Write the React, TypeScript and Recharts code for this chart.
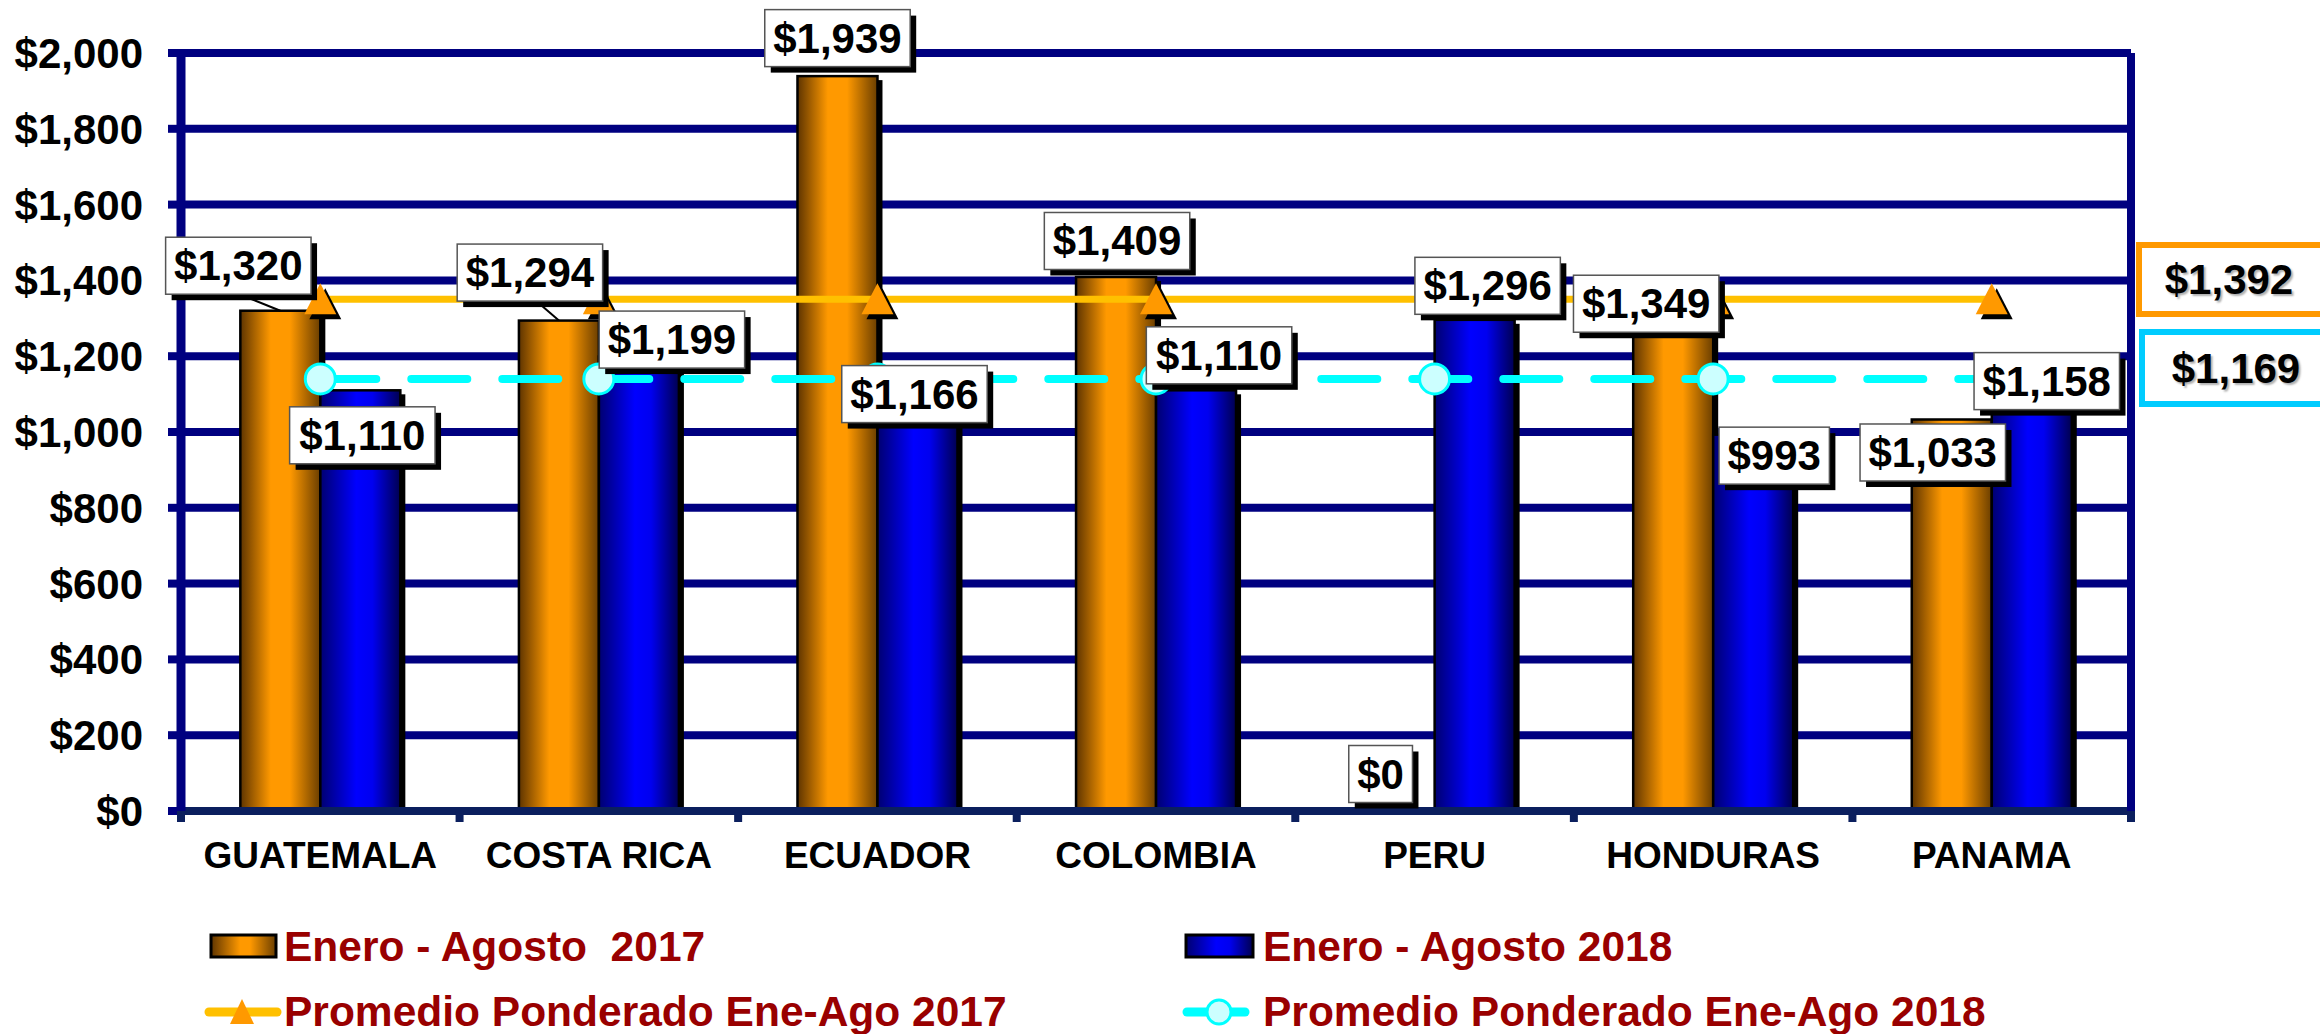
import React from 'react';
import { ComposedChart, Bar, Line, XAxis, YAxis, CartesianGrid, LabelList } from 'recharts';

// ---------- data ----------
const categories = ['GUATEMALA', 'COSTA RICA', 'ECUADOR', 'COLOMBIA', 'PERU', 'HONDURAS', 'PANAMA'];
const ventas2017 = [1320, 1294, 1939, 1409, 0, 1349, 1033];
const ventas2018 = [1110, 1199, 1166, 1110, 1296, 993, 1158];
// weighted average lines, as drawn in the picture
const promedio2017 = 1350;
const promedio2018 = 1140;
const promedioLabels = ['$1,392', '$1,169'];
const yTicks = [0, 200, 400, 600, 800, 1000, 1200, 1400, 1600, 1800, 2000];
const seriesNames = [
  'Enero - Agosto  2017',
  'Enero - Agosto 2018',
  'Promedio Ponderado Ene-Ago 2017',
  'Promedio Ponderado Ene-Ago 2018',
];

const data = categories.map((name, i) => ({
  name,
  v17: ventas2017[i],
  v18: ventas2018[i],
  p17: promedio2017,
  p18: promedio2018,
}));

// ---------- layout / style ----------
const W = 2320;
const H = 1034;
const PLOT_LEFT = 181;
const PLOT_RIGHT = 2131;
const BAND = (PLOT_RIGHT - PLOT_LEFT) / categories.length;
const FONT = "'Liberation Sans', Arial, Helvetica, sans-serif";
const NAVY = '#000080';
const LABEL_FONT = 42;

// label box placement relative to bar top (style only)
const labelStyle17: { dx: number; dy: number; leader?: boolean }[] = [
  { dx: -42, dy: -45, leader: true },
  { dx: -29, dy: -48, leader: true },
  { dx: 0, dy: -38 },
  { dx: 1, dy: -36 },
  { dx: -14, dy: -37 },
  { dx: -27, dy: 4 },
  { dx: -19, dy: 33 },
];
const labelStyle18: { dx: number; dy: number; leader?: boolean }[] = [
  { dx: 2, dy: 45 },
  { dx: 33, dy: -17 },
  { dx: -3, dy: 25 },
  { dx: 23, dy: -35 },
  { dx: 13, dy: -34 },
  { dx: 21, dy: 21 },
  { dx: 15, dy: 9 },
];

const fmt = (v: number) => '$' + String(Math.round(v)).replace(/\B(?=(\d{3})+(?!\d))/g, ',');
const textEm = (s: string) =>
  s.split('').reduce((a, c) => a + (c === ',' || c === '.' ? 0.278 : 0.556), 0);

const makeLabel = (styles: { dx: number; dy: number; leader?: boolean }[]) => (props: any) => {
  const x = Number(props.x);
  const y = Number(props.y);
  const width = Number(props.width);
  const cx0 = x + width / 2;
  const idx =
    typeof props.index === 'number' ? props.index : Math.floor((cx0 - PLOT_LEFT) / BAND);
  const st = styles[idx] || { dx: 0, dy: -38 };
  const text = fmt(Number(props.value));
  const w = textEm(text) * LABEL_FONT + 17;
  const h = 57;
  const bx = cx0 + st.dx - w / 2;
  const by = y + st.dy - h / 2;
  return (
    <g>
      {st.leader && (
        <line x1={cx0 + st.dx + 11} y1={by + h + 4} x2={cx0} y2={y} stroke="#000" strokeWidth={2} />
      )}
      <rect x={bx + 6} y={by + 6} width={w} height={h} fill="#000" />
      <rect x={bx} y={by} width={w} height={h} fill="#fff" stroke="#555" strokeWidth={1.5} />
      <text
        x={bx + w / 2}
        y={by + h / 2}
        textAnchor="middle"
        dominantBaseline="central"
        fontSize={LABEL_FONT}
        fontWeight="bold"
        fontFamily={FONT}
        fill="#000"
      >
        {text}
      </text>
    </g>
  );
};

const CylBar = (props: any) => {
  const { x, y, width, height, grad } = props;
  if (!height || height <= 0) return <g />;
  return (
    <g>
      <rect x={x + 5} y={y + 4} width={width} height={height - 4} fill="#000" />
      <rect x={x} y={y} width={width} height={height} fill={`url(#${grad})`} stroke="#000" strokeWidth={2.5} />
    </g>
  );
};

const tri = (x: number, y: number) => `${x},${y - 16} ${x - 16},${y + 15} ${x + 16},${y + 15}`;

const TriDot = (props: any) => {
  const { cx, cy } = props;
  if (cx == null || cy == null) return <g />;
  return (
    <g>
      <polygon points={tri(cx + 5, cy + 5)} fill="#000" />
      <polygon points={tri(cx, cy)} fill="#FF9900" />
    </g>
  );
};

const CircleDot = (props: any) => {
  const { cx, cy } = props;
  if (cx == null || cy == null) return <g />;
  return <circle cx={cx} cy={cy} r={15} fill="#CCFFFF" stroke="#00FFFF" strokeWidth={3} />;
};

const CatTick = (props: any) => {
  const { x, y, payload, index } = props;
  const left = x - BAND / 2;
  const isLast = index === categories.length - 1;
  return (
    <g>
      <line x1={left} y1={y} x2={left} y2={y + 11} stroke="#0B1F5E" strokeWidth={8} />
      {isLast && <line x1={x + BAND / 2} y1={y} x2={x + BAND / 2} y2={y + 11} stroke="#0B1F5E" strokeWidth={8} />}
      <text
        x={x}
        y={y + 44}
        textAnchor="middle"
        dominantBaseline="central"
        fontSize={37}
        fontWeight="bold"
        fontFamily={FONT}
        fill="#000"
      >
        {payload.value}
      </text>
    </g>
  );
};

const legendText: React.CSSProperties = {
  position: 'absolute',
  fontFamily: FONT,
  fontWeight: 'bold',
  fontSize: 42.5,
  color: '#990000',
  whiteSpace: 'pre',
  lineHeight: '48px',
  height: 48,
};

const boxText: React.CSSProperties = {
  position: 'absolute',
  fontFamily: FONT,
  fontWeight: 'bold',
  fontSize: 42,
  color: '#000',
  whiteSpace: 'pre',
  lineHeight: '50px',
  transform: 'translate(-50%, -50%)',
  textShadow: '2px 2px 2px #b0b0b0',
};

export default function App() {
  return (
    <div style={{ position: 'absolute', left: 0, top: 0, width: W, height: H, background: '#fff', overflow: 'hidden' }}>
      <ComposedChart
        width={W}
        height={H}
        data={data}
        margin={{ top: 53, right: 188, bottom: 143, left: 0 }}
        barCategoryGap="21.3%"
        barGap={0}
      >
        <defs>
          <linearGradient id="g17" x1="0" y1="0" x2="1" y2="0">
            <stop offset="0%" stopColor="#5E3400" />
            <stop offset="38%" stopColor="#FF9900" />
            <stop offset="62%" stopColor="#FF9900" />
            <stop offset="100%" stopColor="#6A3E00" />
          </linearGradient>
          <linearGradient id="g18" x1="0" y1="0" x2="1" y2="0">
            <stop offset="0%" stopColor="#000070" />
            <stop offset="45%" stopColor="#0000FF" />
            <stop offset="65%" stopColor="#0000F0" />
            <stop offset="100%" stopColor="#000050" />
          </linearGradient>
        </defs>
        <CartesianGrid vertical={false} stroke={NAVY} strokeWidth={8} />
        <XAxis
          dataKey="name"
          interval={0}
          height={80}
          tickSize={0}
          tickMargin={0}
          tickLine={false}
          axisLine={{ stroke: '#0B1F5E', strokeWidth: 8 }}
          tick={<CatTick />}
        />
        <XAxis xAxisId="lbl" dataKey="name" hide />
        <YAxis
          domain={[0, 2000]}
          ticks={yTicks}
          interval={0}
          width={181}
          tickSize={13}
          tickMargin={25}
          tickFormatter={(v: number) => fmt(v)}
          axisLine={{ stroke: NAVY, strokeWidth: 9 }}
          tickLine={{ stroke: NAVY, strokeWidth: 8 }}
          tick={{ fill: '#000', fontSize: 42, fontWeight: 'bold', fontFamily: FONT }}
        />
        <YAxis
          yAxisId="r"
          orientation="right"
          width={1}
          tick={false}
          tickLine={false}
          axisLine={{ stroke: NAVY, strokeWidth: 8 }}
        />
        <Bar dataKey="v17" isAnimationActive={false} shape={(p: any) => <CylBar {...p} grad="g17" />} />
        <Bar dataKey="v18" isAnimationActive={false} shape={(p: any) => <CylBar {...p} grad="g18" />} />
        <Line
          dataKey="p17"
          stroke="#FFC000"
          strokeWidth={7}
          isAnimationActive={false}
          dot={(p: any) => <TriDot key={`t${p.index}`} {...p} />}
          activeDot={false}
        />
        <Line
          dataKey="p18"
          stroke="#00FFFF"
          strokeWidth={8}
          strokeDasharray="56 35"
          strokeLinecap="round"
          isAnimationActive={false}
          dot={(p: any) => <CircleDot key={`c${p.index}`} {...p} />}
          activeDot={false}
        />
        <Bar xAxisId="lbl" dataKey="v17" fill="none" isAnimationActive={false} shape={() => <g />}>
          <LabelList dataKey="v17" content={makeLabel(labelStyle17)} />
        </Bar>
        <Bar xAxisId="lbl" dataKey="v18" fill="none" isAnimationActive={false} shape={() => <g />}>
          <LabelList dataKey="v18" content={makeLabel(labelStyle18)} />
        </Bar>
      </ComposedChart>

      {/* average value boxes on the right */}
      <div style={{ position: 'absolute', left: 2136, top: 242, width: 220, height: 75, border: '6px solid #FF9900', boxSizing: 'border-box', background: '#fff' }} />
      <div style={{ ...boxText, left: 2229, top: 280 }}>{promedioLabels[0]}</div>
      <div style={{ position: 'absolute', left: 2139, top: 329, width: 220, height: 78, border: '6px solid #00CCFF', boxSizing: 'border-box', background: '#fff' }} />
      <div style={{ ...boxText, left: 2236, top: 369 }}>{promedioLabels[1]}</div>

      {/* legend */}
      <svg style={{ position: 'absolute', left: 0, top: 900 }} width={W} height={134}>
        <defs>
          <linearGradient id="lg17" x1="0" y1="0" x2="1" y2="0">
            <stop offset="0%" stopColor="#5E3400" />
            <stop offset="45%" stopColor="#FF9900" />
            <stop offset="60%" stopColor="#FF9900" />
            <stop offset="100%" stopColor="#6A3E00" />
          </linearGradient>
          <linearGradient id="lg18" x1="0" y1="0" x2="1" y2="0">
            <stop offset="0%" stopColor="#000070" />
            <stop offset="45%" stopColor="#0000FF" />
            <stop offset="65%" stopColor="#0000F0" />
            <stop offset="100%" stopColor="#000050" />
          </linearGradient>
        </defs>
        <rect x={211} y={35} width={65} height={22} fill="url(#lg17)" stroke="#000" strokeWidth={3} />
        <rect x={1186} y={35} width={67} height={22} fill="url(#lg18)" stroke="#000" strokeWidth={3} />
        <line x1={209} y1={112} x2={277} y2={112} stroke="#FFC000" strokeWidth={9} strokeLinecap="round" />
        <polygon points="242,99 230,124 254,124" fill="#FF9900" />
        <line x1={1187} y1={112} x2={1245} y2={112} stroke="#00FFFF" strokeWidth={9} strokeLinecap="round" />
        <circle cx={1219} cy={112} r={12} fill="#CCFFFF" stroke="#00FFFF" strokeWidth={3} />
      </svg>
      <div style={{ ...legendText, left: 284, top: 947 - 24 }}>{seriesNames[0]}</div>
      <div style={{ ...legendText, left: 1263, top: 947 - 24 }}>{seriesNames[1]}</div>
      <div style={{ ...legendText, left: 284, top: 1012 - 24 }}>{seriesNames[2]}</div>
      <div style={{ ...legendText, left: 1263, top: 1012 - 24 }}>{seriesNames[3]}</div>
    </div>
  );
}
